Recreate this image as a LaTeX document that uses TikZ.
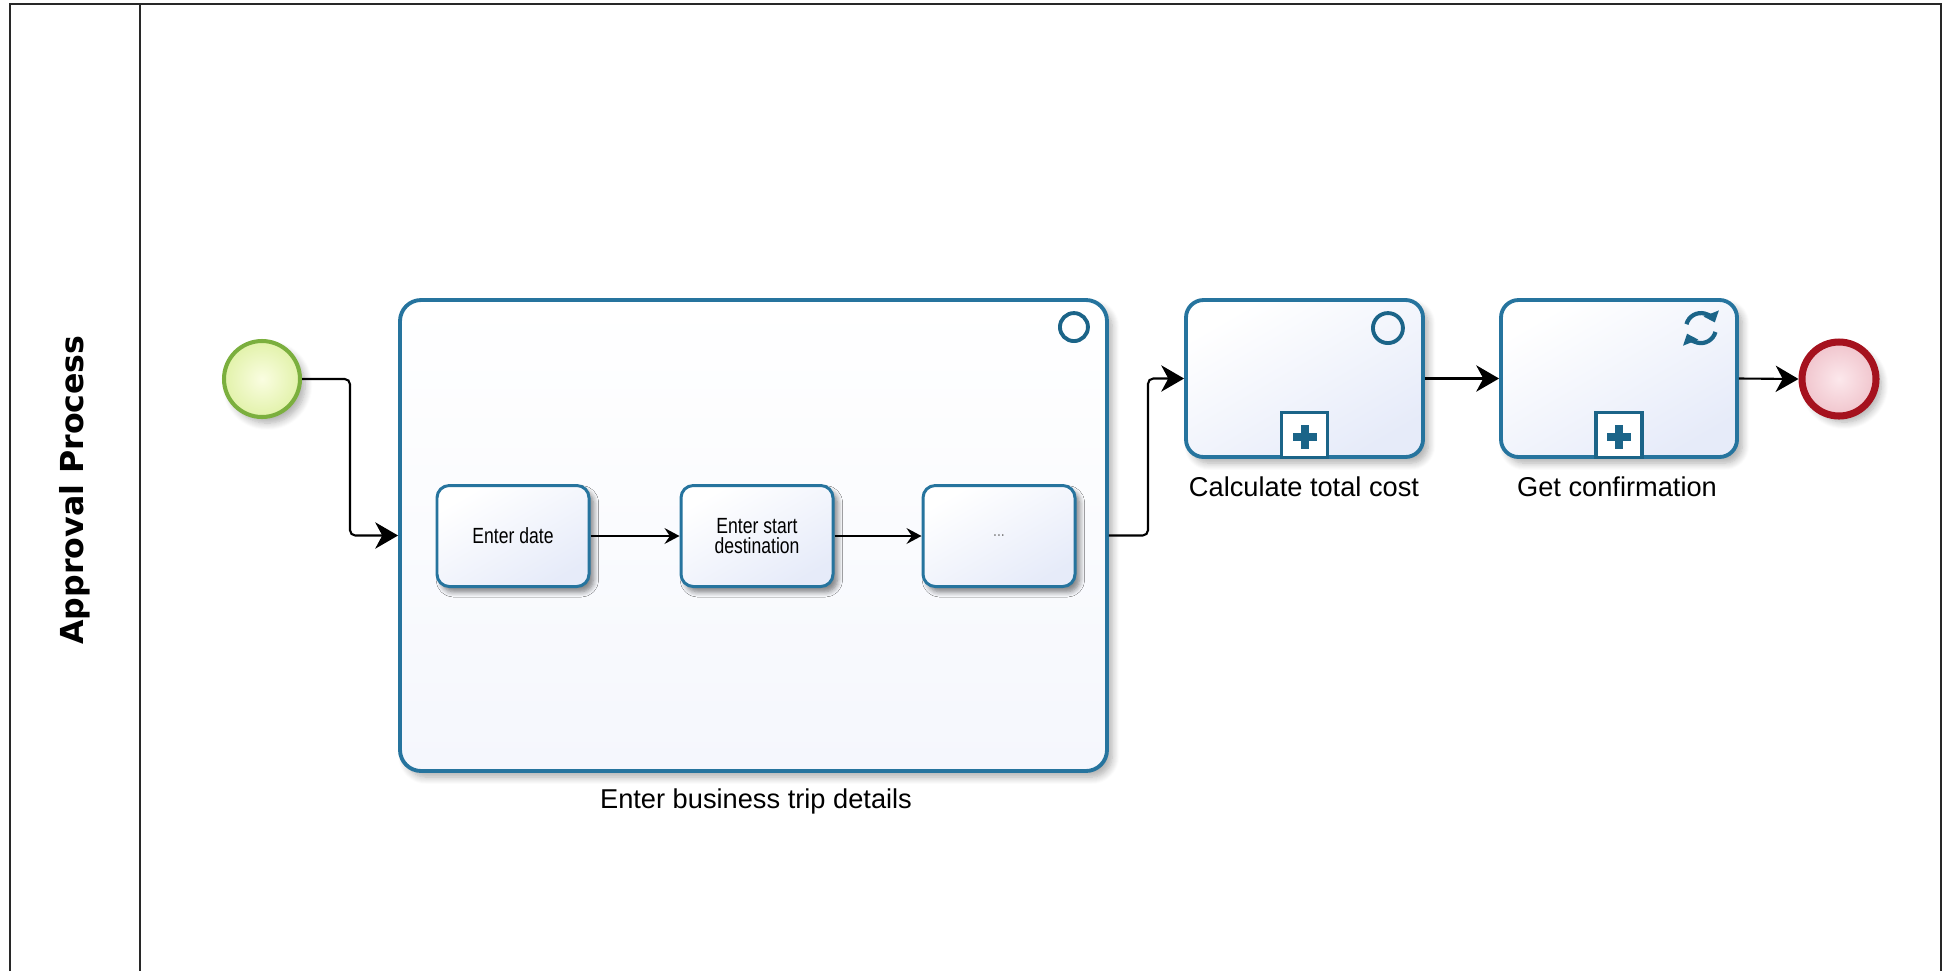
\documentclass[tikz,border=0pt]{standalone}
\usepackage{fontspec}
\setmainfont{Liberation Sans}
\newfontfamily\lanefont{DejaVu Sans}
\newfontfamily\narrowfont[FakeStretch=0.8]{Liberation Sans}
\usetikzlibrary{arrows.meta,shadows.blur,calc}

\definecolor{taskline}{RGB}{38,116,158}
\definecolor{markline}{RGB}{27,100,136}
\definecolor{taskfill}{RGB}{230,235,249}
\definecolor{startline}{RGB}{123,175,62}
\definecolor{startin}{RGB}{250,253,225}
\definecolor{startout}{RGB}{226,242,170}
\definecolor{endline}{RGB}{165,18,30}
\definecolor{endin}{RGB}{252,232,236}
\definecolor{endout}{RGB}{240,196,204}
\definecolor{poolline}{RGB}{40,40,40}

\begin{document}
\begin{tikzpicture}[x=0.02cm, y=-0.02cm,
  shadowed/.style={blur shadow={shadow xshift=3pt, shadow yshift=-3.5pt,
      shadow blur radius=4pt, shadow blur steps=8, shadow opacity=32}},
  task/.style={draw=taskline, line width=2.2pt, rounded corners=10pt,
      top color=white, bottom color=taskfill, shading angle=30,
      inner sep=0pt, shadowed},
  subtask/.style={task, line width=1.7pt, rounded corners=7pt,
      minimum width=152*0.02cm, minimum height=101*0.02cm,
      blur shadow={shadow xshift=2.5pt, shadow yshift=-3pt,
      shadow blur radius=3pt, shadow blur steps=6, shadow opacity=28},
      font=\narrowfont\fontsize{12.5}{11.5}\selectfont, align=center},
  tasklabel/.style={font=\fontsize{15.5}{18}\selectfont, inner sep=0pt},
  flow/.style={line width=1.2pt, rounded corners=3pt,
      -{Stealth[length=13pt, width=15pt, inset=4pt]}},
  innerflow/.style={line width=1.1pt,
      -{Stealth[length=8.5pt, width=9pt, inset=3pt]}},
  marker/.style={draw=markline, line width=2.2pt},
  plusbox/.style={draw=markline, line width=1.8pt, fill=white,
      minimum width=46*0.02cm, minimum height=45*0.02cm, inner sep=0pt},
  poolstroke/.style={draw=poolline, line width=1.6pt}
]
\useasboundingbox (0,0) rectangle (1944,971);

% pool and lane header
\draw[poolstroke] (10,971) -- (10,4) -- (1941,4) -- (1941,971);
\draw[poolstroke] (140,4) -- (140,971);
\node[font=\lanefont\bfseries\fontsize{18}{20}\selectfont, rotate=90,
      anchor=base, inner sep=0pt] (lane) at (83,490) {Approval Process};

% events
\node[circle, draw=startline, line width=2.3pt, inner color=startin,
      outer color=startout, minimum size=76*0.02cm, inner sep=0pt, shadowed]
      (start) at (262,379) {};
\node[circle, draw=endline, line width=4pt, inner color=endin,
      outer color=endout, minimum size=74*0.02cm, inner sep=0pt, shadowed]
      (end) at (1839,379) {};

% expanded sub-process
\node[task, rounded corners=12pt, top color=white, bottom color=white!60!taskfill,
      minimum width=707*0.02cm, minimum height=471*0.02cm]
      (big) at (753.5,535.5) {};
\node[tasklabel] (biglbl) at (756,801) {Enter business trip details};
\draw[marker] ($(big.north east)+(-35,29)$) circle[radius=14];

% tasks inside the sub-process
\node[subtask] (t1) at (513,536) {Enter date};
\node[subtask] (t2) at (757,536) {Enter start\\destination};
\node[subtask, text=gray] (t3) at (999,536) {\fontsize{10}{11}\selectfont ...};

% collapsed sub-processes
\node[task, minimum width=237*0.02cm, minimum height=157*0.02cm]
      (calc) at (1304.5,378.5) {};
\node[tasklabel] (calclbl) at (1304,487) {Calculate total cost};
\draw[marker] ($(calc.north east)+(-37,30)$) circle[radius=15];

\node[task, minimum width=236*0.02cm, minimum height=157*0.02cm]
      (get) at (1619,378.5) {};
\node[tasklabel] (getlbl) at (1617,487) {Get confirmation};

% collapse markers (plus in a square)
\foreach \t in {calc,get}{
  \node[plusbox, anchor=south] (\t plus) at (\t.south) {};
  \fill[markline] ($(\t plus.center)+(-12,-2)$) rectangle ($(\t plus.center)+(12,6)$);
  \fill[markline] ($(\t plus.center)+(-4,-10)$) rectangle ($(\t plus.center)+(4,14)$);
}

% loop marker
\begin{scope}[shift={($(get.north east)+(-38,30)$)}, yscale=-1]
  \draw[markline, line width=2.4pt, -{Triangle[length=5.5pt, width=9pt]}]
    (165:15) arc[start angle=165, end angle=22, radius=15];
  \draw[markline, line width=2.4pt, -{Triangle[length=5.5pt, width=9pt]}]
    (-15:15) arc[start angle=-15, end angle=-158, radius=15];
\end{scope}

% sequence flows
\coordinate (j1) at (350,0);
\coordinate (j2) at (1148,0);
\draw[flow] (start.east) -- (j1 |- start.east) -- (j1 |- big.west) -- (big.west);
\draw[flow] (big.east) -- (j2 |- big.east) -- (j2 |- calc.west) -- (calc.west);
\draw[flow] (calc.east) -- (get.west);
\draw[flow] (get.east) -- (end.west);
\draw[innerflow] (t1.east) -- (t2.west);
\draw[innerflow] (t2.east) -- (t3.west);
\end{tikzpicture}
\end{document}
